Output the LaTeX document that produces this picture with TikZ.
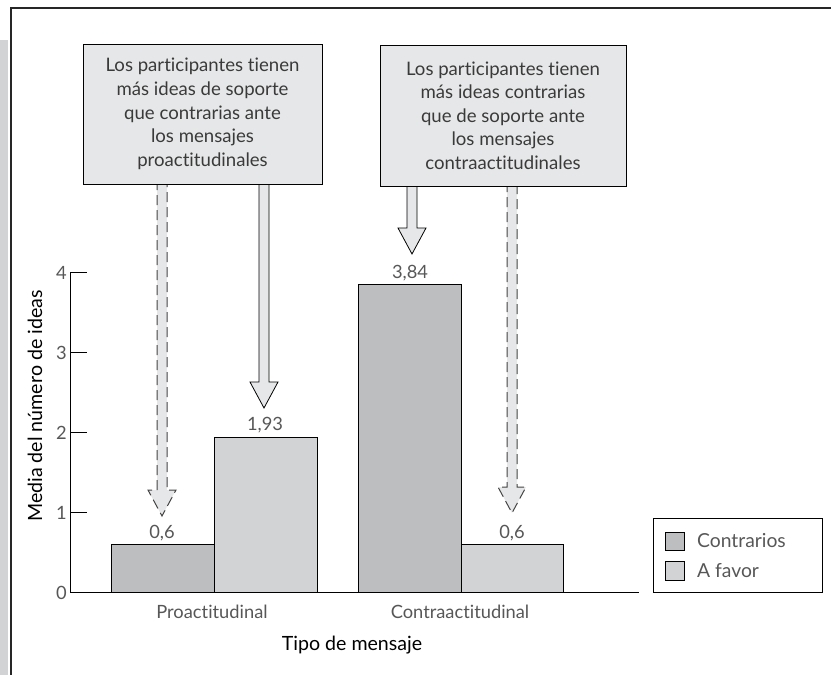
\documentclass[tikz,border=0pt]{standalone}
\usepackage{fontspec}
\setmainfont{Lato}[Ligatures=NoCommon]
\usetikzlibrary{calc}
\definecolor{boxgray}{HTML}{E6E7E8}
\definecolor{bardark}{HTML}{BCBEC0}
\definecolor{barlight}{HTML}{D1D3D4}
\definecolor{txt}{HTML}{3A3A3A}
\definecolor{dashc}{HTML}{444444}
\newcommand\fatarrow[3]{%
  \fill[boxgray] ($(#2)+(-5,0)$) -- ($(#3)+(-5,-26)$) -- ($(#3)+(-14,-26)$) -- (#3) -- ($(#3)+(14,-26)$) -- ($(#3)+(5,-26)$) -- ($(#2)+(5,0)$) -- cycle;
  \draw[#1] ($(#2)+(-5,0)$) -- ($(#3)+(-5,-26)$) -- ($(#3)+(-14,-26)$) -- (#3) -- ($(#3)+(14,-26)$) -- ($(#3)+(5,-26)$) -- ($(#2)+(5,0)$);
}
\begin{document}
\begin{tikzpicture}[x=1pt,y=-1pt,
  every node/.style={text=txt, inner sep=0pt},
  note/.style={draw=black, line width=0.8pt, fill=boxgray, font=\fontsize{18.6}{23.6}\selectfont, align=center},
  bardk/.style={draw=black, line width=0.7pt, fill=bardark},
  barlt/.style={draw=black, line width=0.7pt, fill=barlight},
  solidarr/.style={draw=black, line width=0.8pt, line join=miter},
  dasharr/.style={draw=dashc, line width=1pt, dash pattern=on 10pt off 5pt},
  numlab/.style={font=\fontsize{18.3}{20}\selectfont, text=txt!85},
  leglab/.style={font=\fontsize{19.3}{21}\selectfont, text=txt!85},
  axtitle/.style={font=\fontsize{19.6}{21}\selectfont, text=black},
]
\useasboundingbox (0,0) rectangle (831,675);
% frame
\fill[barlight] (0,40) rectangle (8,675);
\draw[line width=1.5pt, black!85] (11,675) -- (11,8) -- (831,8);

% bars
\draw[bardk] (111,592) rectangle (214,544);
\draw[barlt] (214,592) rectangle (317,437.6);
\draw[bardk] (358,592) rectangle (461,284.8);
\draw[barlt] (461,592) rectangle (563,544);

% axes
\draw[line width=0.8pt] (70,272) -- (70,592) -- (639,592);
\foreach \v/\yy in {1/512,2/432,3/352,4/272}{
  \draw[line width=0.8pt] (70,\yy) -- (87,\yy);
}
\foreach \v/\yy in {0/593,1/513,2/433,3/353,4/273}{
  \node[numlab, anchor=east] (t\v) at (67,\yy) {\v};
}

% value labels
\node[numlab] (v1) at (162,533) {0,6};
\node[numlab] (v2) at (265,425) {1,93};
\node[numlab] (v3) at (410,273) {3,84};
\node[numlab] (v4) at (512,533) {0,6};

% category labels
\node[numlab] (c1) at (212,612) {Proactitudinal};
\node[numlab] (c2) at (460,612) {Contraactitudinal};

% axis titles
\node[axtitle] (xt) at (352,645) {Tipo de mensaje};
\node[axtitle, rotate=90] (yt) at (35,406) {Media del número de ideas};

% arrow endpoints
\coordinate (s1) at (162,180);
\coordinate (e1) at (162,516);
\coordinate (s2) at (264,180);
\coordinate (e2) at (264,408);
\coordinate (s3) at (412,182);
\coordinate (e3) at (412,254);
\coordinate (s4) at (512,182);
\coordinate (e4) at (512,513);

\fatarrow{dasharr}{s1}{e1}
\fatarrow{solidarr}{s2}{e2}
\fatarrow{solidarr}{s3}{e3}
\fatarrow{dasharr}{s4}{e4}

% notes
\node[note, minimum width=239pt, minimum height=140pt] (n1) at (202.5,114) {Los participantes tienen\\más ideas de soporte\\que contrarias ante\\los mensajes\\proactitudinales};
\node[note, minimum width=246pt, minimum height=141pt] (n2) at (503,115.5) {Los participantes tienen\\más ideas contrarias\\que de soporte ante\\los mensajes\\contraactitudinales};

% legend
\draw[line width=0.8pt] (653,518) rectangle (822,592);
\node[draw=black, line width=0.7pt, fill=bardark, minimum width=19pt, minimum height=18pt] (k1) at (674.5,541) {};
\node[draw=black, line width=0.7pt, fill=barlight, minimum width=19pt, minimum height=19pt] (k2) at (674.5,570.5) {};
\node[leglab, anchor=west] (l1) at (697,541) {Contrarios};
\node[leglab, anchor=west] (l2) at (697,570.5) {A favor};
\end{tikzpicture}
\end{document}
